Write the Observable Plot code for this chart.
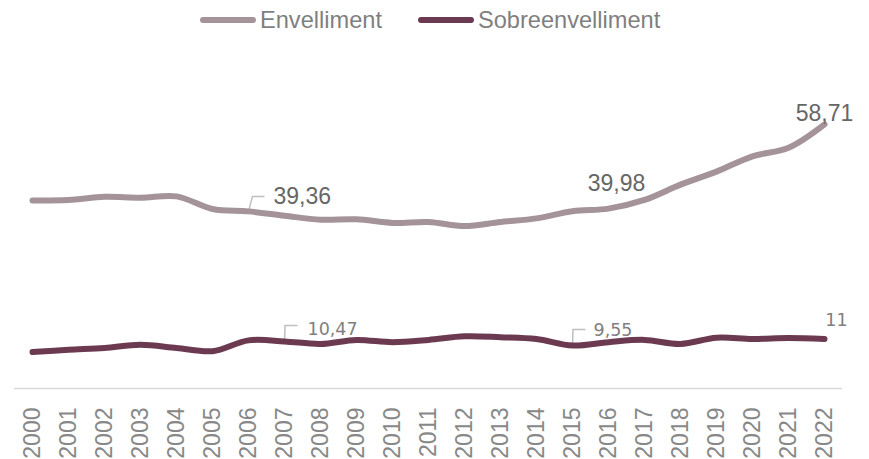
<!DOCTYPE html>
<html><head><meta charset="utf-8">
<script src="https://cdn.jsdelivr.net/npm/d3@7"></script>
<script src="https://cdn.jsdelivr.net/npm/@observablehq/plot@0.6"></script>
<style>
body{margin:0;background:#fff;font-family:"Liberation Sans",Arial,sans-serif;}
#legend{height:40px;display:flex;align-items:center;padding-left:200px;font-size:23.6px;color:#7f7f7f;}
.item{display:flex;align-items:center;margin-right:36px;}
.sw{width:56px;height:6px;border-radius:3px;margin-right:4px;}
</style></head><body>
<div id="legend"></div>
<div id="chart"></div>
<script>
const years = [2000,2001,2002,2003,2004,2005,2006,2007,2008,2009,2010,2011,2012,2013,2014,2015,2016,2017,2018,2019,2020,2021,2022];
const envelliment = [41.8,41.9,42.6,42.4,42.7,39.9,39.36,38.4,37.5,37.6,36.8,37.0,36.1,37.0,37.8,39.4,39.98,41.9,45.3,48.2,51.6,53.5,58.71];
const sobreenvelliment = [8.1,8.6,9.0,9.7,9.0,8.3,10.7,10.47,9.9,10.8,10.3,10.8,11.6,11.4,11.0,9.55,10.3,10.8,9.9,11.3,11.0,11.2,11];
const seriesNames = ["Envelliment","Sobreenvelliment"];
const seriesColors = ["#a5939a","#6b3a50"];
const envLabelYears = [2006,2016,2022];
const sobreLabelYears = [2007,2015,2022];

const fmt = v => String(v).replace(".", ",");
const envRows = years.map((y,i)=>({year:y, value:envelliment[i], series:seriesNames[0]}));
const sobreRows = years.map((y,i)=>({year:y, value:sobreenvelliment[i], series:seriesNames[1]}));
const envLab = envRows.filter(d=>envLabelYears.includes(d.year)).map(d=>({...d,label:fmt(d.value)}));
const sobreLab = sobreRows.filter(d=>sobreLabelYears.includes(d.year)).map(d=>({...d,label:fmt(d.value)}));

// legend
const leg = document.getElementById("legend");
seriesNames.forEach((n,i)=>{
  const it=document.createElement("div");it.className="item";
  const sw=document.createElement("div");sw.className="sw";sw.style.background=seriesColors[i];
  const tx=document.createElement("span");tx.textContent=n;
  it.appendChild(sw);it.appendChild(tx);leg.appendChild(it);
});

const leaderEnv = {draw(ctx){ctx.moveTo(0,0);ctx.lineTo(4,-15);ctx.lineTo(16,-15);}};
const leaderSobre = {draw(ctx){ctx.moveTo(0,0);ctx.lineTo(0.5,-16);ctx.lineTo(13,-16);}};

const pick = (arr, y) => arr.filter(d=>d.year===y);
const envFont = {fontSize:23, fill:"#666", fontFamily:"Liberation Sans"};
const sobreFont = {fontSize:17.5, fill:"#7f7f7f", fontFamily:"DejaVu Sans"};

const chart = Plot.plot({
  width:869, height:419,
  marginTop:33, marginBottom:71, marginLeft:14, marginRight:27,
  style:{fontFamily:"Liberation Sans", color:"#888", background:"#fff"},
  x:{type:"point", domain:years, padding:0.5, label:null},
  y:{domain:[0,70], axis:null},
  marks:[
    Plot.ruleY([0], {stroke:"#d9d9d9", strokeWidth:1.5}),
    Plot.axisX({tickRotate:-90, tickSize:0, tickPadding:19, fontSize:23, tickFormat:d=>String(d), label:null}),
    Plot.dot(pick(envRows,2006), {x:"year", y:"value", symbol:leaderEnv, r:5, fill:"none", stroke:"#bfbfbf", strokeWidth:1.5}),
    Plot.dot(sobreLab.filter(d=>d.year!==2022), {x:"year", y:"value", symbol:leaderSobre, r:5, fill:"none", stroke:"#bfbfbf", strokeWidth:1.5}),
    Plot.line(envRows, {x:"year", y:"value", stroke:seriesColors[0], strokeWidth:6, curve:"catmull-rom", strokeLinecap:"round"}),
    Plot.line(sobreRows, {x:"year", y:"value", stroke:seriesColors[1], strokeWidth:6, curve:"catmull-rom", strokeLinecap:"round"}),
    Plot.text(pick(envLab,2006), {x:"year", y:"value", text:"label", textAnchor:"start", dx:25, dy:-15, ...envFont}),
    Plot.text(pick(envLab,2016), {x:"year", y:"value", text:"label", dx:8, dy:-25, ...envFont}),
    Plot.text(pick(envLab,2022), {x:"year", y:"value", text:"label", dx:0, dy:-11, ...envFont}),
    Plot.text(pick(sobreLab,2007), {x:"year", y:"value", text:"label", textAnchor:"start", dx:23, dy:-12, ...sobreFont}),
    Plot.text(pick(sobreLab,2015), {x:"year", y:"value", text:"label", textAnchor:"start", dx:21, dy:-15, ...sobreFont}),
    Plot.text(pick(sobreLab,2022), {x:"year", y:"value", text:"label", dx:12, dy:-19, ...sobreFont})
  ]
});
document.getElementById("chart").appendChild(chart);
</script>
</body></html>
